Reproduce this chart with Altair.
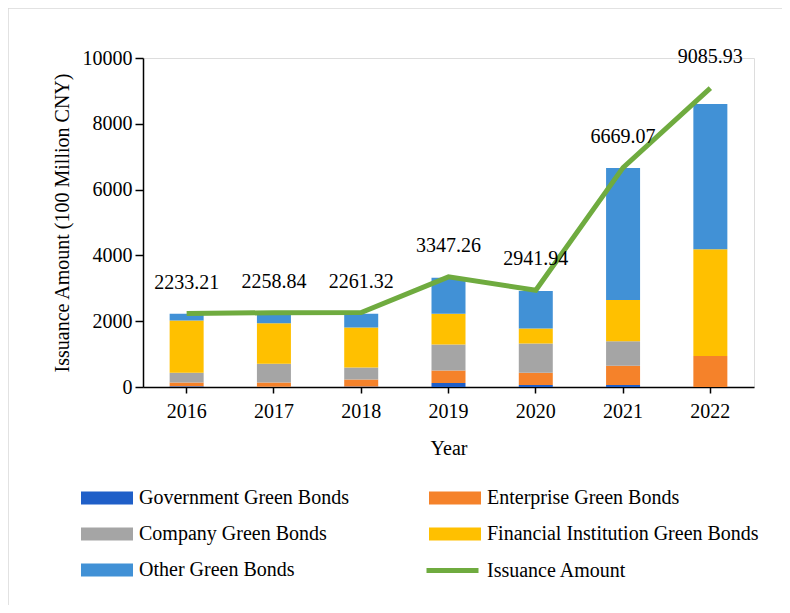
import altair as alt
import pandas as pd

years = ["2016", "2017", "2018", "2019", "2020", "2021", "2022"]
government = [20, 10, 15, 120, 60, 60, 0]
enterprise = [120, 130, 215, 385, 375, 587, 942]
company = [290, 570, 365, 790, 890, 742, 0]
financial = [1590, 1225, 1215, 930, 455, 1255, 3243]
other = [210, 270, 415, 1095, 1135, 4013, 4417]
issuance = [2233.21, 2258.84, 2261.32, 3347.26, 2941.94, 6669.07, 9085.93]

series_names = ["Government Green Bonds", "Enterprise Green Bonds", "Company Green Bonds",
                "Financial Institution Green Bonds", "Other Green Bonds"]
series_colors = ["#1F5FC8", "#F5822A", "#A5A5A5", "#FFC000", "#4191D6"]
series_values = [government, enterprise, company, financial, other]

rows = []
for k, (name, vals) in enumerate(zip(series_names, series_values)):
    for y, v in zip(years, vals):
        rows.append({"Year": y, "type": name, "value": v, "order": k})
bars_df = pd.DataFrame(rows)
line_df = pd.DataFrame({"Year": years, "amount": issuance, "series": "Issuance Amount",
                        "label": [f"{v:.2f}" for v in issuance]})

FONT = "Liberation Serif"

x_enc = alt.X("Year:N", sort=years, title="Year",
              scale=alt.Scale(paddingInner=0.0, paddingOuter=0.0),
              axis=alt.Axis(labelAngle=0, tickSize=6, labelPadding=8, titlePadding=17,
                            domainColor="black", tickColor="black", labelColor="black",
                            titleColor="black", labelFontSize=20, titleFontSize=20,
                            labelFont=FONT, titleFont=FONT, titleFontWeight="normal",
                            domainWidth=1.5, tickWidth=1.5))

bars = alt.Chart(bars_df).mark_bar(size=34).encode(
    x=x_enc,
    y=alt.Y("value:Q", stack="zero", title="Issuance Amount (100 Million CNY)",
            scale=alt.Scale(domain=[0, 10000], nice=False),
            axis=alt.Axis(values=[0, 2000, 4000, 6000, 8000, 10000], grid=False, format="d",
                          tickSize=8, labelPadding=3, titlePadding=10,
                          domainColor="black", tickColor="black", labelColor="black",
                          titleColor="black", labelFontSize=20, titleFontSize=20,
                          labelFont=FONT, titleFont=FONT, titleFontWeight="normal",
                          domainWidth=1.5, tickWidth=1.5)),
    fill=alt.Fill("type:N", sort=series_names,
                  scale=alt.Scale(domain=series_names, range=series_colors),
                  legend=alt.Legend(title=None, orient="none", legendX=-62, legendY=414,
                                    direction="horizontal",
                                    columns=2, columnPadding=80, rowPadding=0,
                                    symbolType="M-1,-0.25H1V0.25H-1Z", symbolSize=2704,
                                    symbolStrokeWidth=0, labelOffset=6,
                                    labelFont=FONT, labelFontSize=20, labelColor="black",
                                    labelLimit=400, padding=0)),
    order=alt.Order("order:Q", sort="ascending"),
)

line = alt.Chart(line_df).mark_line(strokeWidth=5).encode(
    x=alt.X("Year:N", sort=years),
    y=alt.Y("amount:Q"),
    stroke=alt.Stroke("series:N",
                      scale=alt.Scale(domain=["Issuance Amount"], range=["#6FAB3F"]),
                      legend=alt.Legend(title=None, orient="none", legendX=281, legendY=484,
                                        symbolType="stroke", symbolSize=2704,
                                        symbolStrokeWidth=5, labelOffset=6,
                                        labelFont=FONT, labelFontSize=20, labelColor="black",
                                        labelLimit=400, padding=0)),
)

labels = alt.Chart(line_df).mark_text(dy=-31, baseline="middle", font=FONT, fontSize=20,
                                      color="black").encode(
    x=alt.X("Year:N", sort=years),
    y=alt.Y("amount:Q"),
    text="label:N",
)

frame = alt.Chart(pd.DataFrame({"a": [0]})).mark_rect(fill="transparent", stroke="#d9d9d9",
                                                     strokeWidth=1.5).encode(
    x=alt.value(-135), x2=alt.value(700), y=alt.value(-50), y2=alt.value(600)
)

chart = alt.layer(frame, bars, line, labels).resolve_scale(y="shared").properties(
    width=611, height=329,
    autosize=alt.AutoSizeParams(type="none"),
    padding={"left": 135, "top": 50, "right": 28, "bottom": 218},
).configure_view(stroke=None).configure(background="white")

chart.save("out.html", embed_options={"renderer": "svg", "actions": False})
